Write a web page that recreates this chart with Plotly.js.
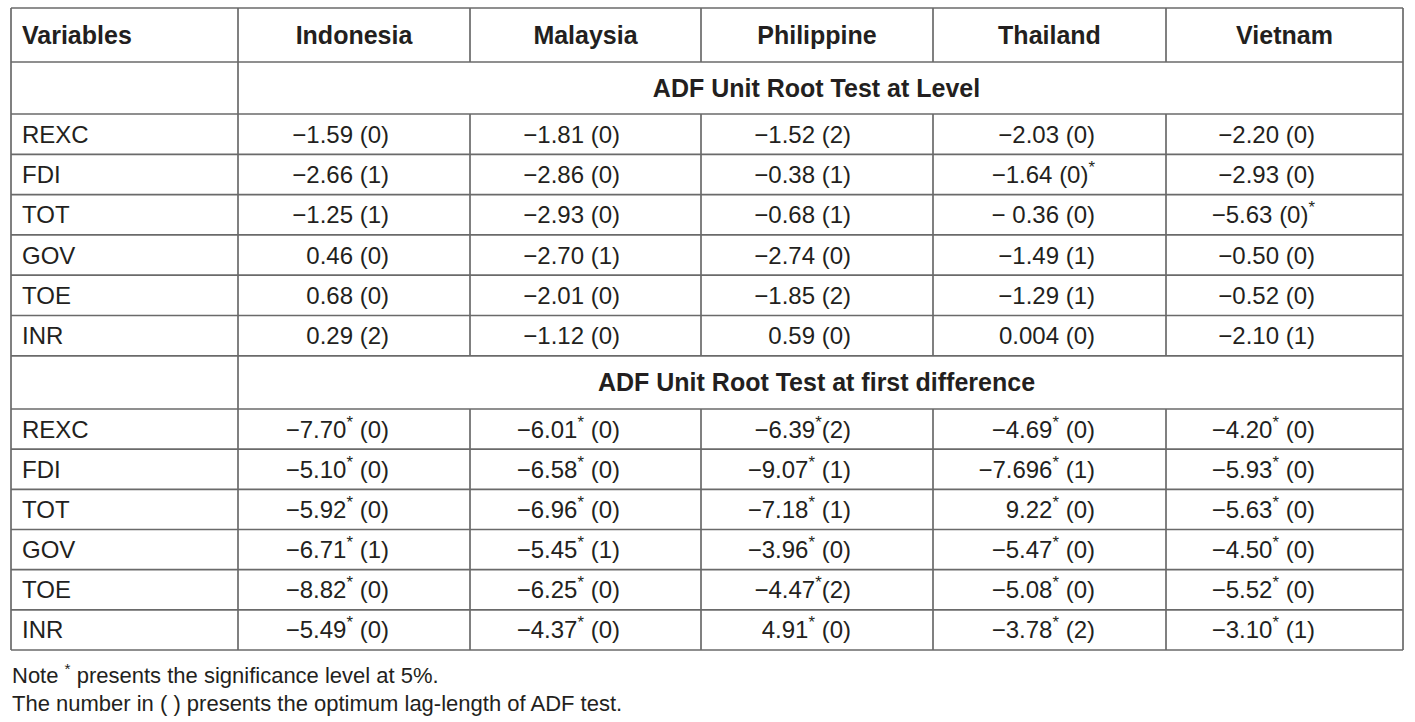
<!DOCTYPE html>
<html>
<head>
<meta charset="utf-8">
<script src="https://cdn.plot.ly/plotly-3.0.1.min.js"></script>
<style>html,body{margin:0;padding:0;background:#fff;}#chart{width:1415px;height:722px;}</style>
</head>
<body>
<div id="chart"></div>
<script>
// ---------- data ----------
const headerFirst = 'Variables';
const countries = ['Indonesia', 'Malaysia', 'Philippine', 'Thailand', 'Vietnam'];
const variables = ['REXC', 'FDI', 'TOT', 'GOV', 'TOE', 'INR'];
const sectionTitles = ['ADF Unit Root Test at Level', 'ADF Unit Root Test at first difference'];

const levelIndonesia  = ['−1.59 (0)', '−2.66 (1)', '−1.25 (1)', '0.46 (0)', '0.68 (0)', '0.29 (2)'];
const levelMalaysia   = ['−1.81 (0)', '−2.86 (0)', '−2.93 (0)', '−2.70 (1)', '−2.01 (0)', '−1.12 (0)'];
const levelPhilippine = ['−1.52 (2)', '−0.38 (1)', '−0.68 (1)', '−2.74 (0)', '−1.85 (2)', '0.59 (0)'];
const levelThailand   = ['−2.03 (0)', '−1.64 (0)*', '− 0.36 (0)', '−1.49 (1)', '−1.29 (1)', '0.004 (0)'];
const levelVietnam    = ['−2.20 (0)', '−2.93 (0)', '−5.63 (0)*', '−0.50 (0)', '−0.52 (0)', '−2.10 (1)'];

const diffIndonesia  = ['−7.70* (0)', '−5.10* (0)', '−5.92* (0)', '−6.71* (1)', '−8.82* (0)', '−5.49* (0)'];
const diffMalaysia   = ['−6.01* (0)', '−6.58* (0)', '−6.96* (0)', '−5.45* (1)', '−6.25* (0)', '−4.37* (0)'];
const diffPhilippine = ['−6.39*(2)', '−9.07* (1)', '−7.18* (1)', '−3.96* (0)', '−4.47*(2)', '4.91* (0)'];
const diffThailand   = ['−4.69* (0)', '−7.696* (1)', '9.22* (0)', '−5.47* (0)', '−5.08* (0)', '−3.78* (2)'];
const diffVietnam    = ['−4.20* (0)', '−5.93* (0)', '−5.63* (0)', '−4.50* (0)', '−5.52* (0)', '−3.10* (1)'];

const notes = ['Note * presents the significance level at 5%.', 'The number in ( ) presents the optimum lag-length of ADF test.'];

// ---------- layout geometry (pixel-like axis units) ----------
const colEdges = [11, 238, 470, 701, 933, 1166, 1403];
const textRight = [389, 620, 851, 1095, 1315];      // right edge of values in each country column
const headerRowTop = 8, headerRowBottom = 62;
const sec1Bottom = 114;
const rowH = 40.3;
const sec2Bottom = 409;
const tableBottom = 650;
const dy = 2.5;   // optical vertical offset of text

const level = [levelIndonesia, levelMalaysia, levelPhilippine, levelThailand, levelVietnam];
const diff  = [diffIndonesia, diffMalaysia, diffPhilippine, diffThailand, diffVietnam];

const sup = s => s.replace('*', '<sup>*</sup>');
const FONT = 'Liberation Sans, Arial, Helvetica, sans-serif';
const INK = '#231f20';

const rowsY1 = variables.map((v, i) => sec1Bottom + rowH * (i + 0.5) + dy);
const sec2Top = sec1Bottom + rowH * variables.length;
const rowsY2 = variables.map((v, i) => sec2Bottom + (tableBottom - sec2Bottom) / variables.length * (i + 0.5) + dy);

const traces = [];
// header
traces.push({
  type: 'scatter', mode: 'text', hoverinfo: 'skip', showlegend: false,
  x: [colEdges[0] + 11], y: [(headerRowTop + headerRowBottom) / 2 + dy],
  text: ['<b>' + headerFirst + '</b>'], textposition: 'middle right',
  textfont: {family: FONT, size: 25, color: INK}
});
traces.push({
  type: 'scatter', mode: 'text', hoverinfo: 'skip', showlegend: false,
  x: countries.map((c, i) => (colEdges[i + 1] + colEdges[i + 2]) / 2),
  y: countries.map(() => (headerRowTop + headerRowBottom) / 2 + dy),
  text: countries.map(c => '<b>' + c + '</b>'), textposition: 'middle center',
  textfont: {family: FONT, size: 25, color: INK}
});
// section titles
traces.push({
  type: 'scatter', mode: 'text', hoverinfo: 'skip', showlegend: false,
  x: [ (colEdges[1] + colEdges[6]) / 2 - 4, (colEdges[1] + colEdges[6]) / 2 - 4 ],
  y: [ (headerRowBottom + sec1Bottom) / 2 + dy, (sec2Top + sec2Bottom) / 2 + dy ],
  text: sectionTitles.map(t => '<b>' + t + '</b>'), textposition: 'middle center',
  textfont: {family: FONT, size: 25, color: INK}
});
// variable names
traces.push({
  type: 'scatter', mode: 'text', hoverinfo: 'skip', showlegend: false,
  x: variables.concat(variables).map(() => colEdges[0] + 11),
  y: rowsY1.concat(rowsY2),
  text: variables.concat(variables), textposition: 'middle right',
  textfont: {family: FONT, size: 24, color: INK}
});
// values
countries.forEach((c, ci) => {
  traces.push({
    type: 'scatter', mode: 'text', hoverinfo: 'skip', showlegend: false, name: c,
    x: level[ci].concat(diff[ci]).map(() => textRight[ci]),
    y: rowsY1.concat(rowsY2),
    text: level[ci].concat(diff[ci]).map(sup), textposition: 'middle left',
    textfont: {family: FONT, size: 24, color: INK}
  });
});

// grid lines
const LINE = {color: '#6a6a6a', width: 1.7};
const shapes = [];
const hLines = [headerRowTop, headerRowBottom, sec1Bottom];
variables.forEach((v, i) => hLines.push(sec1Bottom + rowH * (i + 1)));
hLines.push(sec2Bottom);
variables.forEach((v, i) => hLines.push(sec2Bottom + (tableBottom - sec2Bottom) / variables.length * (i + 1)));
hLines.forEach(y => shapes.push({type: 'line', xref: 'x', yref: 'y', x0: colEdges[0], x1: colEdges[6], y0: y, y1: y, line: LINE}));
// full-height verticals
[colEdges[0], colEdges[1], colEdges[6]].forEach(x => shapes.push({type: 'line', xref: 'x', yref: 'y', x0: x, x1: x, y0: headerRowTop, y1: tableBottom, line: LINE}));
// inner verticals interrupted by section rows
colEdges.slice(2, 6).forEach(x => {
  [[headerRowTop, headerRowBottom], [sec1Bottom, sec2Top], [sec2Bottom, tableBottom]].forEach(seg =>
    shapes.push({type: 'line', xref: 'x', yref: 'y', x0: x, x1: x, y0: seg[0], y1: seg[1], line: LINE}));
});

const annotations = notes.map((n, i) => ({
  xref: 'x', yref: 'y', x: colEdges[0] - 1, y: 674 + i * 29, xanchor: 'left', yanchor: 'middle',
  text: sup(n), showarrow: false, font: {family: FONT, size: 22, color: INK}
}));

const layout = {
  width: 1415, height: 722,
  margin: {l: 0, r: 0, t: 0, b: 0},
  paper_bgcolor: '#fff', plot_bgcolor: '#fff',
  xaxis: {range: [0, 1415], visible: false, fixedrange: true},
  yaxis: {range: [722, 0], visible: false, fixedrange: true},
  shapes: shapes, annotations: annotations, showlegend: false
};
Plotly.newPlot('chart', traces, layout, {staticPlot: true, displayModeBar: false});
</script>
</body>
</html>
